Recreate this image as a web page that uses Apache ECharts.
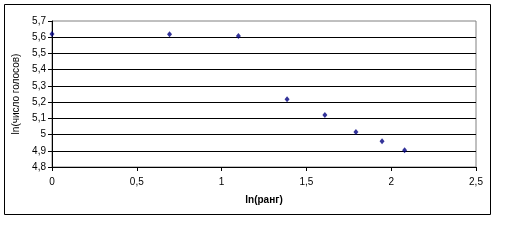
<!DOCTYPE html>
<html>
<head>
<meta charset="utf-8">
<script src="https://cdn.jsdelivr.net/npm/echarts@6/dist/echarts.min.js"></script>
<style>
html,body{margin:0;padding:0;background:#fff;}
#c{width:517px;height:241px;}
</style>
</head>
<body>
<div id="c"></div>
<script>
var lnRank = [0, 0.693, 1.099, 1.386, 1.609, 1.792, 1.946, 2.079];
var lnVotes = [5.62, 5.618, 5.607, 5.218, 5.12, 5.016, 4.958, 4.903];
var xTitle = 'ln(ранг)';
var yTitle = 'ln(число голосов)';

var points = lnRank.map(function (x, i) { return [x, lnVotes[i]]; });
function comma(v) { return String(+v.toFixed(1)).replace('.', ','); }

var chart = echarts.init(document.getElementById('c'), null, {renderer: 'canvas'});
chart.setOption({
  backgroundColor: '#fff',
  animation: false,
  graphic: [{
    type: 'rect',
    shape: {x: 4.5, y: 4.5, width: 486, height: 210},
    style: {fill: 'none', stroke: '#000', lineWidth: 1},
    z: -1
  }],
  grid: {
    left: 52, right: 41, top: 21, bottom: 74,
    show: true, borderColor: '#808080', borderWidth: 1, backgroundColor: '#fff'
  },
  xAxis: {
    type: 'value', min: 0, max: 2.5, interval: 0.5,
    name: xTitle, nameLocation: 'middle', nameGap: 28,
    nameTextStyle: {fontFamily: 'Liberation Sans', fontSize: 10, fontWeight: 'bold', color: '#000'},
    axisLine: {show: true, lineStyle: {color: '#000', width: 1}},
    axisTick: {show: true, inside: false, length: 4, lineStyle: {color: '#000'}},
    axisLabel: {fontFamily: 'Liberation Sans', fontSize: 10, color: '#000', margin: 10, formatter: comma},
    splitLine: {show: false}
  },
  yAxis: {
    type: 'value', min: 4.8, max: 5.7, interval: 0.1,
    name: yTitle, nameLocation: 'middle', nameGap: 27, nameRotate: 90,
    nameTextStyle: {fontFamily: 'Liberation Sans', fontSize: 10, color: '#000'},
    axisLine: {show: true, lineStyle: {color: '#000', width: 1}},
    axisTick: {show: true, inside: false, length: 4, lineStyle: {color: '#000'}},
    axisLabel: {fontFamily: 'Liberation Sans', fontSize: 10, color: '#000', margin: 6, formatter: comma},
    splitLine: {show: true, showMinLine: false, showMaxLine: false, lineStyle: {color: '#000', width: 1}}
  },
  series: [{
    type: 'scatter',
    data: points,
    symbol: 'diamond',
    symbolSize: [5, 6],
    itemStyle: {color: '#000080'}
  }]
});
</script>
</body>
</html>
